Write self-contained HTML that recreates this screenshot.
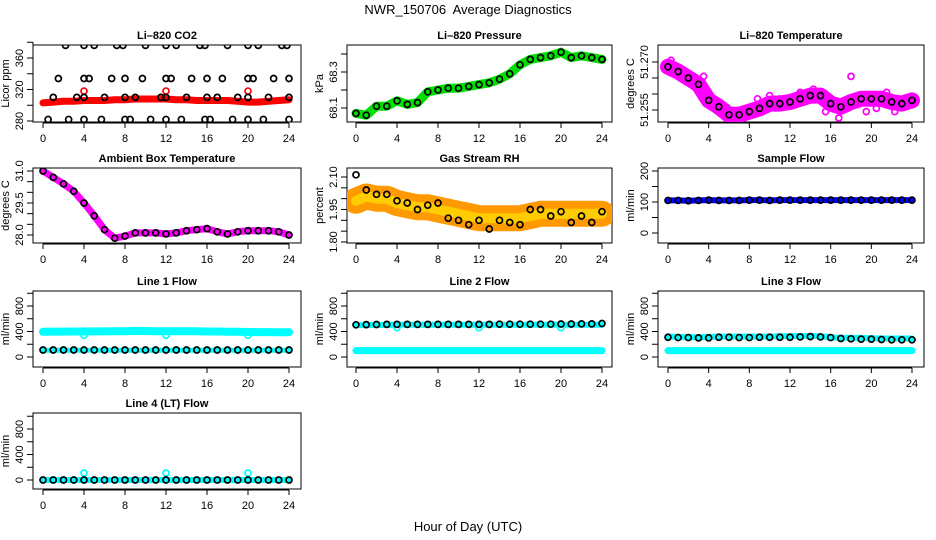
<!DOCTYPE html>
<html><head><meta charset="utf-8"><style>
html,body{margin:0;padding:0;background:#fff}
svg{display:block;font-family:"Liberation Sans",sans-serif}
</style></head><body>
<svg id="chart" width="936" height="540" viewBox="0 0 936 540">
<text x="468" y="14" text-anchor="middle" font-size="13" style="white-space:pre">NWR_150706  Average Diagnostics</text>
<text x="468" y="531" text-anchor="middle" font-size="13">Hour of Day (UTC)</text>
</svg>
<script>
// ---- data ----
const hours = [0,1,2,3,4,5,6,7,8,9,10,11,12,13,14,15,16,17,18,19,20,21,22,23,24];
const co2Band = [303,304,305,305,306,306,306,307,307,308,308,308,308,307,307,306,306,306,306,305,304,304,305,306,307];
const co2CircleHours = [2.2,4,5,7.2,7.8,10,12,13,15.3,15.8,18,20,21,23.3,23.8, 1.5,4,4.5,6.7,8,9.7,12,12.5,14.5,16,17.5,20,20.5,22.5,24, 1,3.3,4,6,8,9,11.5,12,14,16,17,19,20,22,24, 0.5,2.5,4,5.7,8,8.5,10.5,12,13.5,15.8,16.3,18.5,20,21.5,24];
const co2CircleValues = [376,376,376,376,376,376,376,376,376,376,376,376,376,376,376, 334,334,334,334,334,334,334,334,334,334,334,334,334,334,334, 310,310,310,310,310,310,310,310,310,310,310,310,310,310,310, 282,282,282,282,282,282,282,282,282,282,282,282,282,282,282];
const co2OutlierHours = [4,12,20];
const co2OutlierValues = [318,318,318];
const pressure = [68.07,68.06,68.11,68.11,68.14,68.12,68.13,68.19,68.2,68.21,68.21,68.22,68.23,68.24,68.26,68.29,68.34,68.37,68.38,68.39,68.41,68.38,68.39,68.38,68.37];
const liTemp = [51.2685,51.267,51.265,51.263,51.258,51.256,51.2535,51.2535,51.2545,51.2555,51.257,51.257,51.2575,51.2585,51.2595,51.2595,51.257,51.256,51.2575,51.2585,51.2585,51.2585,51.2575,51.257,51.258];
const liTempScatterHours = [0.3,1.5,3.5,6.5,8.8,11,14.3,16.8,18,19.5,20.5,22.3,23.3,2.5,5,10,13,15.5,21.5];
const liTempScatterValues = [51.2705,51.2675,51.2655,51.2525,51.2585,51.2585,51.2615,51.2525,51.2655,51.2545,51.2555,51.2545,51.2565,51.2625,51.2545,51.2595,51.2605,51.2545,51.2605];
const ambient = [31.0,30.7,30.4,30.05,29.5,28.9,28.25,27.85,27.95,28.1,28.1,28.1,28.05,28.1,28.2,28.25,28.3,28.15,28.05,28.15,28.2,28.2,28.2,28.15,28.0];
const rhBand = [1.99,2.01,2.0,2.0,1.98,1.97,1.96,1.96,1.95,1.94,1.93,1.92,1.91,1.91,1.91,1.91,1.91,1.92,1.93,1.93,1.93,1.93,1.93,1.93,1.93];
const rhCircles = [2.11,2.04,2.02,2.02,1.99,1.98,1.95,1.97,1.98,1.91,1.9,1.88,1.9,1.86,1.9,1.89,1.88,1.95,1.95,1.92,1.94,1.89,1.92,1.89,1.94];
const sampleFlow = [105,105,104,105,106,105,105,105,106,106,105,106,106,106,106,106,106,106,106,106,106,106,106,106,106];
const line1Hi = [395,398,398,400,400,402,402,405,405,410,408,405,405,405,405,405,400,400,395,395,392,390,390,388,388];
const line1Lo = [105,105,105,105,105,105,105,105,105,105,105,105,105,105,105,105,105,105,105,105,105,105,105,105,105];
const line1Black = [110,110,110,110,110,110,110,110,110,110,110,110,110,110,110,110,110,110,110,110,110,110,110,110,110];
const line2Hi = [500,500,502,502,505,505,505,505,505,505,505,505,505,505,505,505,505,505,505,505,505,505,505,505,505];
const line2Lo = [100,100,100,100,100,100,100,100,100,100,100,100,100,100,100,100,100,100,100,100,100,100,100,100,100];
const line2Black = [505,508,510,512,512,512,512,512,512,512,512,512,512,512,515,515,515,515,515,515,518,518,520,520,525];
const line3Hi = [320,315,310,310,315,320,320,320,320,320,320,325,325,330,330,325,310,300,300,300,295,290,290,290,290];
const line3Lo = [100,100,100,100,100,100,100,100,100,100,100,100,100,100,100,100,100,100,100,100,100,100,100,100,100];
const line3Black = [310,305,305,300,300,310,310,305,305,310,310,310,310,315,320,315,305,290,285,280,280,275,270,270,270];
const line4Cyan = [0,0,0,0,0,0,0,0,0,0,0,0,0,0,0,0,0,0,0,0,0,0,0,0,0];
const line4Black = [0,0,0,0,0,0,0,0,0,0,0,0,0,0,0,0,0,0,0,0,0,0,0,0,0];
const flowOutlierHours = [4,12,20];
const line1Outliers = [340,340,340];
const line2Outliers = [460,460,460];
const line4Outliers = [110,110,110];
const hourTicks = [0,4,8,12,16,20,24];

// ---- drawing ----
const svg = document.getElementById('chart');
const NS = 'http://www.w3.org/2000/svg';
function mk(tag, attrs, parent){
  const e = document.createElementNS(NS, tag);
  for (const k in attrs) e.setAttribute(k, attrs[k]);
  (parent||svg).appendChild(e);
  return e;
}
const cols = [{l:33,r:301,x0:43,x24:289},{l:347,r:612,x0:356,x24:602},{l:658,r:924,x0:668,x24:912}];
const rows = [{t:45,b:122},{t:168,b:243},{t:291,b:367},{t:413,b:489}];

function panel(name, title, ci, ri, ylab, ymap, ticks, labels){
  const c = cols[ci], r = rows[ri];
  const g = mk('g', {});
  
  
  const xs = t => c.x0 + t * (c.x24 - c.x0) / 24;
  const ys = v => ymap(v);
  const box = mk('rect', {x:c.l, y:r.t, width:c.r-c.l, height:r.b-r.t, fill:'none', stroke:'#000', 'stroke-width':1}, g);
  
  
  const tt = mk('text', {x:(c.l+c.r)/2, y:r.t-6, 'text-anchor':'middle', 'font-size':11, 'font-weight':'bold'}, g);
  tt.textContent = title;
  
  
  const xa = mk('g', {}, g);
  
  
  mk('line', {x1:xs(0), x2:xs(24), y1:r.b+1, y2:r.b+1, stroke:'#000'}, xa);
  hourTicks.forEach(h => {
    mk('line', {x1:xs(h), x2:xs(h), y1:r.b+1, y2:r.b+6, stroke:'#000'}, xa);
    const tx = mk('text', {x:xs(h), y:r.b+20, 'text-anchor':'middle', 'font-size':11}, xa);
    tx.textContent = h;
    
    
  });
  const ya = mk('g', {}, g);
  
  
  mk('line', {x1:c.l, x2:c.l, y1:ys(ticks[0]), y2:ys(ticks[ticks.length-1]), stroke:'#000'}, ya);
  ticks.forEach(v => mk('line', {x1:c.l-6, x2:c.l, y1:ys(v), y2:ys(v), stroke:'#000'}, ya));
  labels.forEach(v => {
    const lx = c.l - 10, ly = ys(v.val);
    const tx = mk('text', {x:lx, y:ly, 'text-anchor':'middle', 'font-size':11, transform:`rotate(-90 ${lx} ${ly})`}, ya);
    tx.textContent = v.txt;
    
    
  });
  const yx = c.l - 24, yy = (r.t + r.b)/2;
  const yt = mk('text', {x:yx, y:yy, 'text-anchor':'middle', 'font-size':11, transform:`rotate(-90 ${yx} ${yy})`}, ya);
  yt.textContent = ylab;
  
  
  const clip = 'clip-' + name;
  const cp = mk('clipPath', {id:clip}, g);
  mk('rect', {x:c.l, y:r.t, width:c.r-c.l, height:r.b-r.t}, cp);
  const plot = mk('g', {'clip-path':`url(#${clip})`}, g);
  return {xs, ys, plot, name};
}
function band(p, hrs, vals, color, w, nm){
  const pts = hrs.map((h,i) => p.xs(h).toFixed(1) + ',' + p.ys(vals[i]).toFixed(1)).join(' ');
  const pl = mk('polyline', {points:pts, fill:'none', stroke:color, 'stroke-width':w, 'stroke-linejoin':'round', 'stroke-linecap':'round'}, p.plot);
  
  
}
function circles(p, hrs, vals, color, nm, rad){
  const g = mk('g', {}, p.plot);
  
  
  hrs.forEach((h,i) => {
    const c = mk('circle', {cx:p.xs(h), cy:p.ys(vals[i]), r:rad||3, fill:'none', stroke:color, 'stroke-width':1.7}, g);
    
    
  });
}
function lin(v0, y0, v1, y1){ return v => y0 + (v - v0) * (y1 - y0) / (v1 - v0); }
function rng(a, b, s){ const o=[]; for (let v=a; v<=b+1e-9; v+=s) o.push(+v.toFixed(4)); return o; }

let p = panel('co2', 'Li\u2013820 CO2', 0, 0, 'Licor ppm', lin(280,121,360,58), rng(280,380,20),
  [{val:280,txt:'280'},{val:320,txt:'320'},{val:360,txt:'360'}]);
band(p, hours, co2Band, '#ff0000', 7, 'co2-band');
circles(p, co2OutlierHours, co2OutlierValues, '#ff0000', 'co2-outliers');
circles(p, co2CircleHours, co2CircleValues, '#000', 'co2-averages');

p = panel('pressure', 'Li\u2013820 Pressure', 1, 0, 'kPa', lin(68.1,108,68.3,72), [68.1,68.2,68.3,68.4],
  [{val:68.1,txt:'68.1'},{val:68.3,txt:'68.3'}]);
band(p, hours, pressure, '#00dd00', 9, 'pressure-band');
circles(p, hours, pressure, '#000', 'pressure-averages');

p = panel('li-temp', 'Li\u2013820 Temperature', 2, 0, 'degrees C', lin(51.270,62,51.255,110), [51.255,51.26,51.265,51.27],
  [{val:51.255,txt:'51.255'},{val:51.27,txt:'51.270'}]);
band(p, hours, liTemp, '#ff00ff', 16, 'temp-band');
circles(p, liTempScatterHours, liTempScatterValues, '#ff00ff', 'temp-scatter');
circles(p, hours, liTemp, '#000', 'temp-averages');

p = panel('ambient', 'Ambient Box Temperature', 0, 1, 'degrees C', lin(31,171,28,235), rng(28,31,0.5),
  [{val:28,txt:'28.0'},{val:29.5,txt:'29.5'},{val:31,txt:'31.0'}]);
band(p, hours, ambient, '#ff00ff', 7, 'ambient-band');
circles(p, hours, ambient, '#000', 'ambient-averages');

p = panel('rh', 'Gas Stream RH', 1, 1, 'percent', lin(2.10,177,1.80,242), rng(1.8,2.1,0.05),
  [{val:1.8,txt:'1.80'},{val:1.95,txt:'1.95'},{val:2.1,txt:'2.10'}]);
band(p, hours, rhBand, '#ff9900', 26, 'rh-band');
band(p, hours, rhBand, '#ffcc00', 10, 'rh-band-inner');
circles(p, hours, rhCircles, '#000', 'rh-averages');

p = panel('sample-flow', 'Sample Flow', 2, 1, 'ml/min', lin(0,233,200,171), [0,50,100,150,200],
  [{val:0,txt:'0'},{val:100,txt:'100'},{val:200,txt:'200'}]);
band(p, hours, sampleFlow, '#0000ff', 6, 'sample-band');
circles(p, hours, sampleFlow, '#000', 'sample-averages');

const flowTicks = [0,200,400,600,800,1000];
const flowLabels = [{val:0,txt:'0'},{val:400,txt:'400'},{val:800,txt:'800'}];
p = panel('line1', 'Line 1 Flow', 0, 2, 'ml/min', lin(0,357,800,306), flowTicks, flowLabels);
band(p, hours, line1Hi, '#00ffff', 8, 'line1-hi');
band(p, hours, line1Lo, '#00ffff', 5, 'line1-lo');
circles(p, flowOutlierHours, line1Outliers, '#00ffff', 'line1-outliers');
circles(p, hours, line1Black, '#000', 'line1-averages');
p = panel('line2', 'Line 2 Flow', 1, 2, 'ml/min', lin(0,357,800,306), flowTicks, flowLabels);
band(p, hours, line2Hi, '#00ffff', 6, 'line2-hi');
band(p, hours, line2Lo, '#00ffff', 7, 'line2-lo');
circles(p, flowOutlierHours, line2Outliers, '#00ffff', 'line2-outliers');
circles(p, hours, line2Black, '#000', 'line2-averages');
p = panel('line3', 'Line 3 Flow', 2, 2, 'ml/min', lin(0,357,800,306), flowTicks, flowLabels);
band(p, hours, line3Hi, '#00ffff', 6, 'line3-hi');
band(p, hours, line3Lo, '#00ffff', 7, 'line3-lo');
circles(p, hours, line3Black, '#000', 'line3-averages');
p = panel('line4', 'Line 4 (LT) Flow', 0, 3, 'ml/min', lin(0,480,800,429), flowTicks, flowLabels);
band(p, hours, line4Cyan, '#00ffff', 6, 'line4-band');
circles(p, flowOutlierHours, line4Outliers, '#00ffff', 'line4-outliers');
circles(p, hours, line4Black, '#000', 'line4-averages');
</script>
</body></html>
